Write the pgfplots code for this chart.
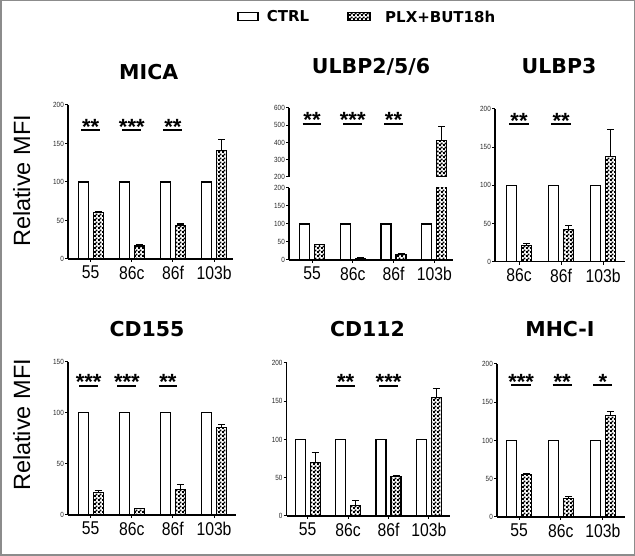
\documentclass[border=0pt]{standalone}
\usepackage{fontspec}
\usepackage{pgfplots}
\pgfplotsset{compat=1.18}
\usetikzlibrary{patterns}
\pgfdeclarepatternformonly{finecheck}{\pgfpointorigin}{\pgfqpoint{3.6pt}{3.6pt}}{\pgfqpoint{3.6pt}{3.6pt}}{%
  \pgfpathrectangle{\pgfpointorigin}{\pgfqpoint{2pt}{2pt}}%
  \pgfpathrectangle{\pgfqpoint{1.8pt}{1.8pt}}{\pgfqpoint{2pt}{2pt}}%
  \pgfusepath{fill}}
\setmainfont{Liberation Sans}
\newfontfamily\titlefam{DejaVu Sans}
\newfontfamily\narrowfont[FakeStretch=0.85]{Liberation Sans}
\newcommand\xtfont{\narrowfont\fontsize{18.5}{18.5}\selectfont}
\newcommand\ytfont{\narrowfont\fontsize{7.5}{7.5}\selectfont}
\newcommand\starfont{\bfseries\fontsize{22}{22}\selectfont}
\newcommand\ttlfont{\titlefam\bfseries\fontsize{20.5}{20.5}\selectfont}
\newcommand{\sig}[6]{%
  \draw[line width=2pt] (axis cs:#1,#3) -- (axis cs:#2,#3);
  \node[anchor=base, inner sep=0pt, font=\starfont, yshift=-12.9pt] at (axis cs:#4,#5) {#6};}
\pgfplotsset{
  panel/.style={
    scale only axis, anchor=south west,
    axis lines*=left,
    axis line style={line width=1.1pt, -},
    ymin=0, enlargelimits=false,
    ybar=5pt, bar width=10pt,
    tick align=outside, major tick length=3pt,
    tick style={line width=1pt, black},
    xtick={0,1,2,3},
    xticklabel style={font=\xtfont, anchor=north, inner sep=0pt, yshift=-4pt},
    yticklabel style={font=\ytfont, inner sep=1pt, text=black!85},
    /pgf/number format/assume math mode=true,
    every axis plot/.append style={line width=1.2pt},
  },
  ctrl/.style={fill=white, draw=black},
  plx/.style={pattern=finecheck, pattern color=black, draw=black,
    /pgfplots/error bars/y dir=plus, /pgfplots/error bars/y explicit,
    /pgfplots/error bars/error bar style={line width=1.2pt, black},
    /pgfplots/error bars/error mark options={rotate=90, mark size=3.5pt, line width=1.2pt, black}},
}
\begin{document}
\begin{tikzpicture}
\path[use as bounding box] (0pt,0pt) rectangle (635pt,556pt);
\draw[black!45, line width=1.5pt] (0.75pt,0.75pt) rectangle (634.25pt,555.25pt);
% legend
\draw[black, line width=1.2pt, fill=white] (238pt,535.3pt) rectangle (258pt,543.3pt);
\node[anchor=west, inner sep=0pt, font=\titlefam\bfseries\fontsize{15}{15}\selectfont] at (266.7pt,539.5pt) {CTRL};
\draw[black, line width=1.2pt, pattern=finecheck] (348pt,535.3pt) rectangle (370pt,543.3pt);
\node[anchor=west, inner sep=0pt, font=\titlefam\bfseries\fontsize{15}{15}\selectfont] at (385pt,539.5pt) {PLX+BUT18h};
% titles
\node[anchor=base, inner sep=0pt, font=\ttlfont] at (148.7pt,476.8pt) {MICA};
\node[anchor=base, inner sep=0pt, font=\ttlfont] at (371pt,482.7pt) {ULBP2/5/6};
\node[anchor=base, inner sep=0pt, font=\ttlfont] at (559pt,482.7pt) {ULBP3};
\node[anchor=base, inner sep=0pt, font=\ttlfont] at (147pt,219.3pt) {CD155};
\node[anchor=base, inner sep=0pt, font=\ttlfont] at (367.5pt,219.1pt) {CD112};
\node[anchor=base, inner sep=0pt, font=\ttlfont] at (560pt,219.3pt) {MHC-I};
% y labels
\node[rotate=90, inner sep=0pt, font=\fontsize{23.5}{23.5}\selectfont] at (21.7pt,375pt) {Relative MFI};
\node[rotate=90, inner sep=0pt, font=\fontsize{23.5}{23.5}\selectfont] at (21.7pt,131pt) {Relative MFI};

% MICA
\begin{axis}[panel, at={(68pt,297pt)}, width=165pt, height=154pt, xmin=-0.552, xmax=3.46,
  ymax=200, ytick={0,50,100,150,200}, xticklabels={55,86c,86f,103b}]
\addplot[ctrl] coordinates {(0,100) (1,100) (2,100) (3,100)};
\addplot[plx] coordinates {(0,60) +- (0,2) (1,17) +- (0,1.5) (2,43) +- (0,2.5) (3,141) +- (0,14)};
\sig{-0.23}{0.23}{168}{0}{179}{**}
\sig{0.77}{1.23}{168}{1}{179}{***}
\sig{1.77}{2.23}{168}{2}{179}{**}
\end{axis}

% ULBP2/5/6 lower
\begin{axis}[panel, at={(289pt,296pt)}, width=164pt, height=72pt, xmin=-0.565, xmax=3.46,
  ymax=200, ytick={0,50,100,150,200}, xticklabels={55,86c,86f,103b}]
\addplot[ctrl] coordinates {(0,100) (1,100) (2,100) (3,100)};
\addplot[plx] coordinates {(0,42) +- (0,1) (1,5) +- (0,0.5) (2,15) +- (0,4) (3,410) +- (0,85)};
\end{axis}
% ULBP2/5/6 upper
\begin{axis}[panel, at={(289pt,379pt)}, width=164pt, height=69pt, xmin=-0.565, xmax=3.46,
  ymin=200, ymax=600, ytick={200,300,400,500,600}, hide x axis]
\addplot[draw=none, fill=none] coordinates {(3,100)};
\addplot[plx] coordinates {(3,410) +- (0,85)};
\sig{-0.23}{0.23}{505}{0}{559}{**}
\sig{0.77}{1.23}{505}{1}{559}{***}
\sig{1.77}{2.23}{505}{2}{559}{**}
\end{axis}

% ULBP3
\begin{axis}[panel, at={(495pt,294.3pt)}, width=130pt, height=152.7pt, xmin=-0.571, xmax=2.52,
  ymax=200, ytick={0,50,100,150,200}, xtick={0,1,2}, xticklabels={86c,86f,103b}]
\addplot[ctrl] coordinates {(0,100) (1,100) (2,100)};
\addplot[plx] coordinates {(0,21) +- (0,3) (1,42) +- (0,5) (2,138) +- (0,35)};
\sig{-0.23}{0.23}{180}{0}{192}{**}
\sig{0.77}{1.23}{180}{1}{192}{**}
\end{axis}

% CD155
\begin{axis}[panel, at={(68pt,41pt)}, width=168pt, height=153.3pt, xmin=-0.552, xmax=3.535,
  ymax=150, ytick={0,50,100,150}, xticklabels={55,86c,86f,103b}]
\addplot[ctrl] coordinates {(0,100) (1,100) (2,100) (3,100)};
\addplot[plx] coordinates {(0,22) +- (0,2) (1,6) +- (0,0.5) (2,25) +- (0,5) (3,86) +- (0,2.5)};
\sig{-0.28}{0.18}{126.5}{-0.05}{135.5}{***}
\sig{0.65}{1.11}{126.5}{0.88}{135.5}{***}
\sig{1.65}{2.11}{126.5}{1.88}{135.5}{**}
\end{axis}

% CD112
\begin{axis}[panel, at={(286.7pt,40pt)}, width=163.3pt, height=153pt, xmin=-0.52, xmax=3.52,
  ymax=200, ytick={0,50,100,150,200}, xticklabels={55,86c,86f,103b}]
\addplot[ctrl] coordinates {(0,100) (1,100) (2,100) (3,100)};
\addplot[plx] coordinates {(0,70) +- (0,13) (1,14) +- (0,6) (2,52) +- (0,1) (3,155) +- (0,12)};
\sig{0.71}{1.17}{170}{0.94}{182}{**}
\sig{1.77}{2.23}{170}{2}{182}{***}
\end{axis}

% MHC-I
\begin{axis}[panel, at={(497pt,39pt)}, width=128pt, height=153pt, xmin=-0.526, xmax=2.53,
  ymax=200, ytick={0,50,100,150,200}, xtick={0,1,2}, xticklabels={55,86c,103b}]
\addplot[ctrl] coordinates {(0,100) (1,100) (2,100)};
\addplot[plx] coordinates {(0,56) +- (0,0.5) (1,24) +- (0,3) (2,133) +- (0,5)};
\sig{-0.18}{0.28}{172.5}{0.05}{184}{***}
\sig{0.80}{1.26}{172.5}{1.03}{184}{**}
\sig{1.77}{2.23}{172.5}{2}{184}{*}
\end{axis}
\end{tikzpicture}
\end{document}
